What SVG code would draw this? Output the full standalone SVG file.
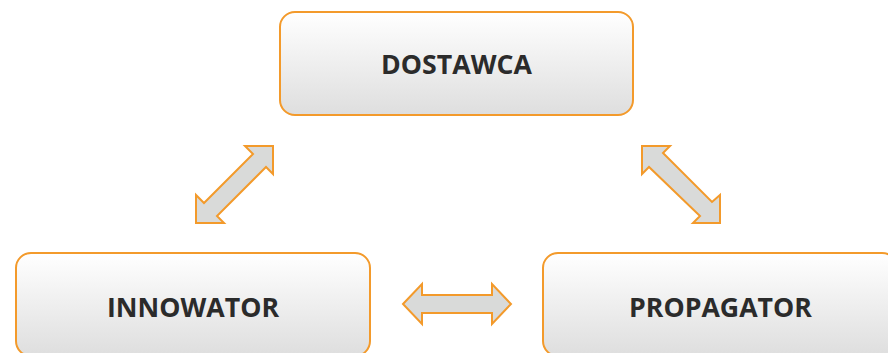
<svg xmlns="http://www.w3.org/2000/svg" width="888" height="353" viewBox="0 0 888 353">
<defs>
<linearGradient id="g" x1="0" y1="0" x2="0" y2="1">
<stop offset="0" stop-color="#FFFFFF"/>
<stop offset="1" stop-color="#DEDEDE"/>
</linearGradient>
</defs>
<style>
.box{fill:url(#g);stroke:#F39A2B;stroke-width:2}
.lbl{font-family:"Open Sans",sans-serif;font-weight:700;font-size:26.7px;fill:#2B2B2B;text-anchor:middle}
.arr{fill:#D9DAD9;stroke:#F39A2B;stroke-width:2;stroke-linejoin:miter}
</style>
<rect width="888" height="353" fill="#FFFFFF"/>
<g id="dostawca">
<rect class="box" x="280" y="12" width="353" height="103" rx="15"/>
<text class="lbl" x="456.5" y="74">DOSTAWCA</text>
</g>
<g id="innowator">
<rect class="box" x="16" y="253" width="354" height="103" rx="15"/>
<text class="lbl" x="193" y="317">INNOWATOR</text>
</g>
<g id="propagator">
<rect class="box" x="543" y="253" width="354" height="103" rx="15"/>
<text class="lbl" x="720.5" y="317">PROPAGATOR</text>
</g>
<g id="connectors">
<polygon class="arr" points="273,146 245,146 253,154 204,203 196,195 196,223 224,223 217,216 266,167 273,174"/>
<polygon class="arr" points="642,146 670,146 663,153 712,202 720,195 720,223 693,223 700,216 649,167 642,174"/>
<polygon class="arr" points="403,304 422,284 422,295 492,295 492,284 511,304 492,324 492,313 422,313 422,324"/>
</g>
</svg>
